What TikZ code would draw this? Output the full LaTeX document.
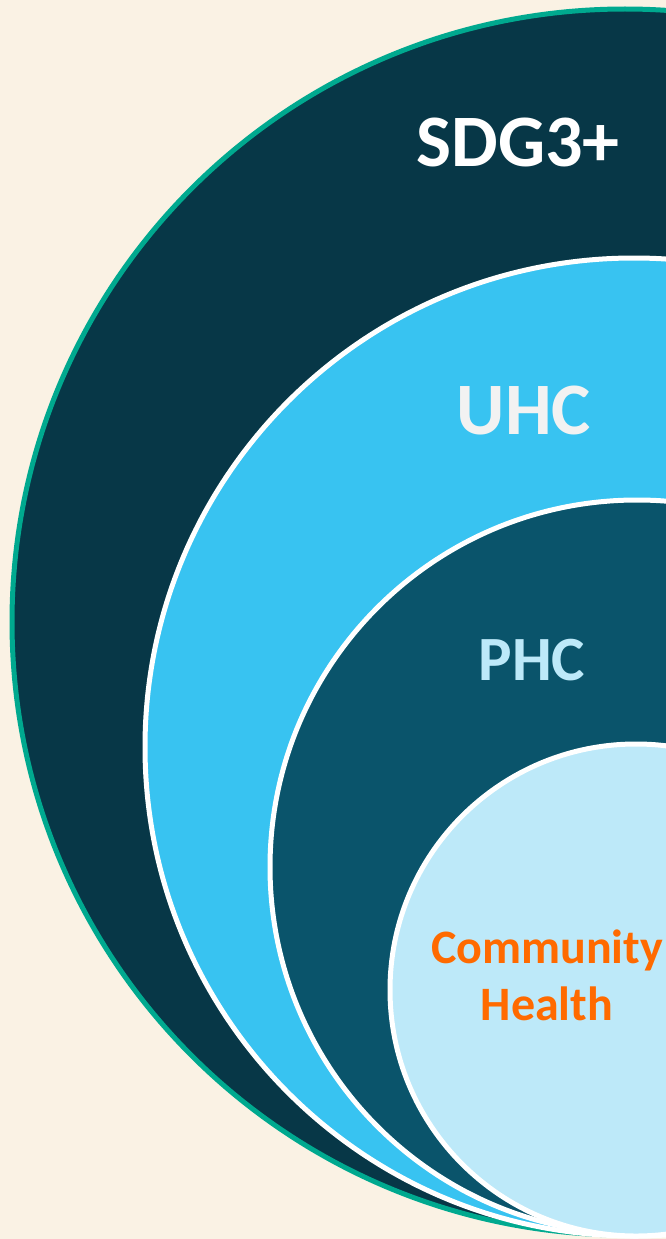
\documentclass[tikz,border=0pt]{standalone}
\usepackage{fontspec}
\setmainfont{Carlito}
\definecolor{cream}{HTML}{FAF2E4}
\definecolor{sdgblue}{HTML}{073747}
\definecolor{sdggreen}{HTML}{00A98F}
\definecolor{uhcblue}{HTML}{38C3F1}
\definecolor{phcblue}{HTML}{0A546B}
\definecolor{commblue}{HTML}{BDE9F9}
\definecolor{commorange}{HTML}{FF6A00}
\begin{document}
\begin{tikzpicture}[x=1pt,y=-1pt,
		ring/.style={draw=white,line width=5pt},
		lbl/.style={font=\bfseries\fontsize{74}{88}\selectfont}]
		\useasboundingbox (0,0) rectangle (666,1239);
		\fill[cream] (0,0) rectangle (666,1239);
		\clip (0,0) rectangle (666,1239);
		% nested circles, outer to inner
		\draw[fill=sdgblue,draw=sdggreen,line width=5pt] (625,622) circle (613pt);
		\draw[ring,fill=uhcblue] (634,747) circle (489pt);
		\draw[ring,fill=phcblue] (637,867) circle (367pt);
		\draw[ring,fill=commblue] (636,990) circle (246pt);
		% labels
		\node[lbl,white] (sdg) at (518,142) {SDG3+};
		\node[lbl,color={rgb,255:red,242;green,242;blue,242}] (uhc) at (524,411) {UHC};
		\node[lbl,commblue,font=\bfseries\fontsize{63}{76}\selectfont] (phc) at (532,660) {PHC};
		\node[commorange,align=center,font=\bfseries\fontsize{48}{57}\selectfont] (comm) at (547,975) {Community\\Health};
\end{tikzpicture}
\end{document}
